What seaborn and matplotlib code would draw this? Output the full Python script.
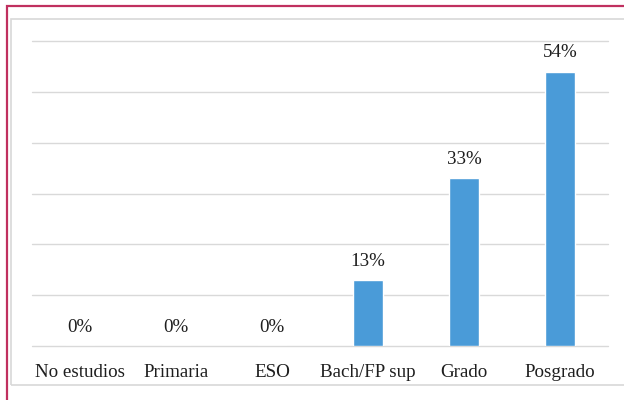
import matplotlib
matplotlib.use('Agg')
import matplotlib.pyplot as plt
import seaborn as sns
import pandas as pd
from matplotlib.patches import Rectangle

# datos
categorias = ['No estudios', 'Primaria', 'ESO', 'Bach/FP sup', 'Grado', 'Posgrado']
porcentajes = [0, 0, 0, 13, 33, 54]

df = pd.DataFrame({'nivel': categorias, 'pct': porcentajes})

sns.set_style('white')
plt.rcParams['font.family'] = ['Liberation Serif', 'DejaVu Serif']

fig = plt.figure(figsize=(6.24, 4.0), dpi=100)
ax = fig.add_axes([32 / 624, 1 - 346 / 400, 576 / 624, 305 / 400])

sns.barplot(data=df, x='nivel', y='pct', color='#4A9BD8', width=0.31,
            saturation=1, ax=ax, zorder=3)

ax.set_ylim(0, 60)
ax.set_xlim(-0.5, 5.5)
ax.set_yticks(range(0, 61, 10))
ax.set_yticklabels([])
ax.yaxis.grid(True, color='#d9d9d9', linewidth=1, zorder=0)
for gl in ax.get_ygridlines():
    gl.set_clip_on(False)
ax.tick_params(axis='both', length=0)
ax.tick_params(axis='x', pad=13, labelsize=13.7, colors='#1e1e1e')
for s in ax.spines.values():
    s.set_visible(False)
ax.set_xlabel('')
ax.set_ylabel('')

# etiquetas de valor
for i, v in enumerate(porcentajes):
    ax.annotate(f'{v}%', (i, v), xytext=(0, 7.5), textcoords='offset points',
                ha='center', va='bottom', fontsize=13.7, color='#1e1e1e')

# marcos
fig.patches.append(Rectangle((11 / 624, 15 / 400), 1.0, 366 / 400, transform=fig.transFigure,
                             fill=False, edgecolor='#d8d8d8', linewidth=1.2))
fig.patches.append(Rectangle((7 / 624, -0.1), 1.0, 1.1 - 6 / 400, transform=fig.transFigure,
                             fill=False, edgecolor='#c0305f', linewidth=1.6))

fig.savefig('out.png', dpi=100)
